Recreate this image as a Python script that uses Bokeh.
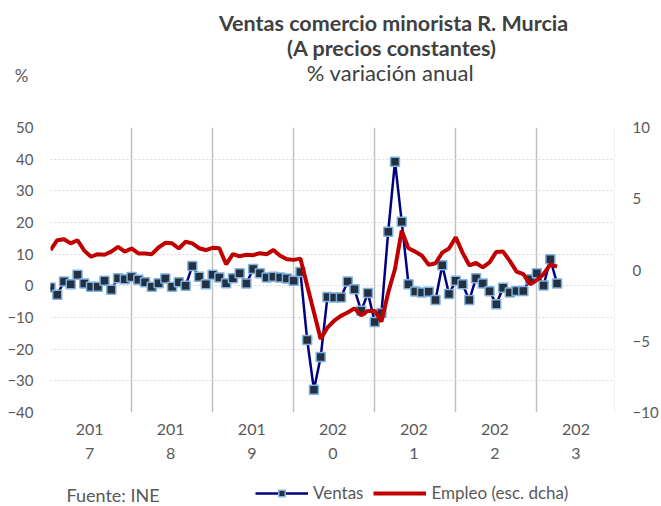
import numpy as np
from bokeh.plotting import figure
from bokeh.layouts import column
from bokeh.models import (Range1d, LinearAxis, FixedTicker, Legend,
                          LegendItem, Span, ColumnDataSource)
from bokeh.core.properties import value
from bokeh.embed import file_html
from bokeh.resources import INLINE

# ---------------- data ----------------
years = ["2017", "2018", "2019", "2020", "2021", "2022", "2023"]

# Ventas: % variación anual (eje izquierdo), ene-2017 .. abr-2023
ventas = [-0.5, -2.8, 1.4, 0.5, 3.5, 0.7, -0.3, -0.3, 1.6, -1.2, 2.4, 2.1,
          2.8, 1.9, 1.1, -0.3, 0.8, 2.3, -0.3, 1.1, 0.0, 6.3, 2.9, 0.5,
          3.5, 2.6, 0.8, 2.4, 4.0, 0.7, 5.3, 4.0, 2.6, 2.9, 2.6, 2.3,
          1.6, 4.4, -17.1, -32.8, -22.5, -3.5, -3.7, -3.7, 1.4, -1.1, -7.9, -2.3,
          -11.4, -8.6, 17.1, 39.2, 20.2, 0.5, -1.8, -2.1, -1.9, -4.5, 6.5, -2.6,
          1.6, 0.5, -4.5, 2.4, 0.7, -1.7, -5.8, -0.6, -2.1, -1.6, -1.6, 2.1,
          4.0, 0.1, 8.4, 0.7]

# Empleo: % variación anual (eje derecho)
empleo = [1.40, 2.09, 2.16, 1.87, 2.09, 1.36, 0.93, 1.11, 1.07, 1.29, 1.62, 1.29,
          1.51, 1.16, 1.16, 1.11, 1.58, 1.91, 1.87, 1.51, 1.98, 1.87, 1.53, 1.40,
          1.56, 1.53, 0.40, 1.11, 0.96, 1.07, 1.04, 1.18, 1.11, 1.40, 1.00, 0.76,
          0.71, 0.80, -1.09, -2.96, -4.84, -4.04, -3.56, -3.22, -2.98, -2.69, -3.18, -2.87,
          -2.87, -3.62, -1.58, 0.07, 2.76, 1.53, 1.29, 1.00, 0.36, 0.47, 1.22, 1.51,
          2.29, 1.22, 0.33, 0.49, 0.18, 0.53, 1.27, 1.29, 0.64, -0.11, -0.29, -1.00,
          -0.71, -0.29, 0.40, 0.24]

left_ticks = [-40, -30, -20, -10, 0, 10, 20, 30, 40, 50]
right_ticks = [-10, -5, 0, 5, 10]

title_lines = ["Ventas comercio minorista R. Murcia", "(A  precios constantes)"]
subtitle = "% variación anual"
unit_label = "%"
source_note = "Fuente: INE"
legend_labels = ["Ventas", "Empleo (esc. dcha)"]

months = np.arange(len(ventas))

FONT = "Lato"
GREY = "#595959"
DARK = "#404040"
NAVY = "#000080"
RED = "#c00000"

W = 661
HDR_H = 115           # header strip (titles)
MAIN_TOP, FRAME_H, MAIN_BOT = 12, 285, 60
MAIN_H = MAIN_TOP + FRAME_H + MAIN_BOT
FTR_H = 506 - HDR_H - MAIN_H
FTR_Y0 = HDR_H + MAIN_H   # page y of the footer's top edge
X_END = 83.5          # right edge of the time axis (months from Jan 2017)


def no_align(f):
    if "frame_align" in f.properties():
        f.frame_align = False


def strip(h, y0):
    """A text strip whose data coordinates are page pixels."""
    f = figure(width=W, height=h, output_backend="svg", toolbar_location=None,
               title=None, x_range=Range1d(0, W), y_range=Range1d(y0 + h, y0),
               x_axis_type=None, y_axis_type=None,
               min_border_left=0, min_border_right=0,
               min_border_top=0, min_border_bottom=0)
    f.outline_line_color = None
    f.grid.visible = False
    no_align(f)
    return f


# ---------------- header ----------------
hdr = strip(HDR_H, 0)
hdr.text(x=[393], y=[22], text=[title_lines[0]], text_font=value(FONT),
         text_font_size=value("21.5px"), text_font_style="bold",
         text_align="center", text_baseline="middle", text_color=DARK)
hdr.text(x=[394], y=[47], text=[title_lines[1]], text_font=value(FONT),
         text_font_size=value("21.5px"), text_font_style="bold",
         text_align="center", text_baseline="middle", text_color=DARK)
hdr.text(x=[390], y=[72], text=[subtitle], text_font=value(FONT),
         text_font_size=value("22px"), text_align="center",
         text_baseline="middle", text_color=DARK)
hdr.text(x=[21], y=[75], text=[unit_label], text_font=value(FONT),
         text_font_size=value("17px"), text_align="center",
         text_baseline="middle", text_color=GREY)

# ---------------- main chart ----------------
p = figure(width=W, height=MAIN_H, output_backend="svg", toolbar_location=None,
           title=None,
           x_range=Range1d(0, X_END), y_range=Range1d(-40, 50),
           min_border_left=50, min_border_right=44, min_border_top=MAIN_TOP,
           min_border_bottom=MAIN_BOT)
no_align(p)
p.extra_y_ranges = {"right": Range1d(-10, 10)}
p.outline_line_color = None

year_pos = [12 * i + 5.8 for i in range(len(years))]
p.xaxis.ticker = FixedTicker(ticks=year_pos)
p.xaxis.major_label_overrides = {pos: y[:3] + "\n" + y[3:] for pos, y in zip(year_pos, years)}
p.xaxis.axis_line_color = None
p.xaxis.major_tick_line_color = None
p.xaxis.minor_tick_line_color = None
p.xaxis.major_tick_out = 0
p.xaxis.major_tick_in = 0
p.xaxis.major_label_text_font = FONT
p.xaxis.major_label_text_font_size = "16px"
p.xaxis.major_label_text_color = GREY
p.xaxis.major_label_standoff = 6
p.xaxis.major_label_text_line_height = 1.3

p.yaxis.ticker = FixedTicker(ticks=left_ticks)
ra = LinearAxis(y_range_name="right", ticker=FixedTicker(ticks=right_ticks))
p.add_layout(ra, "right")
for ax in (p.yaxis[0], ra):
    ax.axis_line_color = None
    ax.major_tick_line_color = None
    ax.minor_tick_line_color = None
    ax.major_tick_out = 0
    ax.major_tick_in = 0
    ax.major_label_text_font = FONT
    ax.major_label_text_font_size = "15px"
    ax.major_label_text_color = GREY
p.yaxis[0].major_label_standoff = 17
ra.major_label_standoff = 18

p.ygrid.ticker = FixedTicker(ticks=left_ticks)
p.ygrid.grid_line_color = "#d9d9d9"
p.ygrid.grid_line_dash = "2 2"
p.ygrid.grid_line_width = 1
p.xgrid.ticker = FixedTicker(ticks=[12 * i for i in range(len(years))])
p.xgrid.grid_line_color = "#c0c0c0"
p.xgrid.grid_line_width = 1.5
p.add_layout(Span(location=X_END, dimension="height",
                  line_color="#e0e0e0", line_width=1))

src = ColumnDataSource(dict(x=months, ventas=ventas, empleo=empleo))
VEN_LINE = dict(line_color=NAVY, line_width=2.5)
VEN_MARK = dict(marker="square", size=9, fill_color="#243040",
                line_color="#7fb3e0", line_width=1.5)
EMP_LINE = dict(line_color=RED, line_width=4)
p.line("x", "ventas", source=src, **VEN_LINE)
p.scatter("x", "ventas", source=src, **VEN_MARK)
p.line("x", "empleo", source=src, y_range_name="right", **EMP_LINE)

# ---------------- footer (legend + source) ----------------
ftr = strip(FTR_H, FTR_Y0)
# legend keys only: a single NaN point, nothing is drawn in the strip itself
keys = ColumnDataSource(dict(x=[np.nan], y=[np.nan]))
k1 = ftr.line("x", "y", source=keys, **VEN_LINE)
k2 = ftr.scatter("x", "y", source=keys, **VEN_MARK)
k3 = ftr.line("x", "y", source=keys, **EMP_LINE)
LEG_H = 20
leg_top = 493 - LEG_H / 2 - FTR_Y0
legend = Legend(items=[LegendItem(label=legend_labels[0], renderers=[k1, k2]),
                       LegendItem(label=legend_labels[1], renderers=[k3])],
                location=(255, FTR_H - leg_top - LEG_H), orientation="horizontal",
                border_line_color=None, background_fill_alpha=0,
                glyph_width=53, glyph_height=16, label_height=LEG_H,
                label_standoff=5, spacing=10, padding=0, margin=0,
                label_text_font=FONT, label_text_font_size="17px",
                label_text_color=GREY)
ftr.add_layout(legend)
ftr.text(x=[66], y=[494], text=[source_note], text_font=value(FONT),
         text_font_size=value("18px"), text_align="left",
         text_baseline="middle", text_color=GREY)

layout = column(hdr, p, ftr, spacing=0)
open("out.html", "w").write(file_html(layout, INLINE))
